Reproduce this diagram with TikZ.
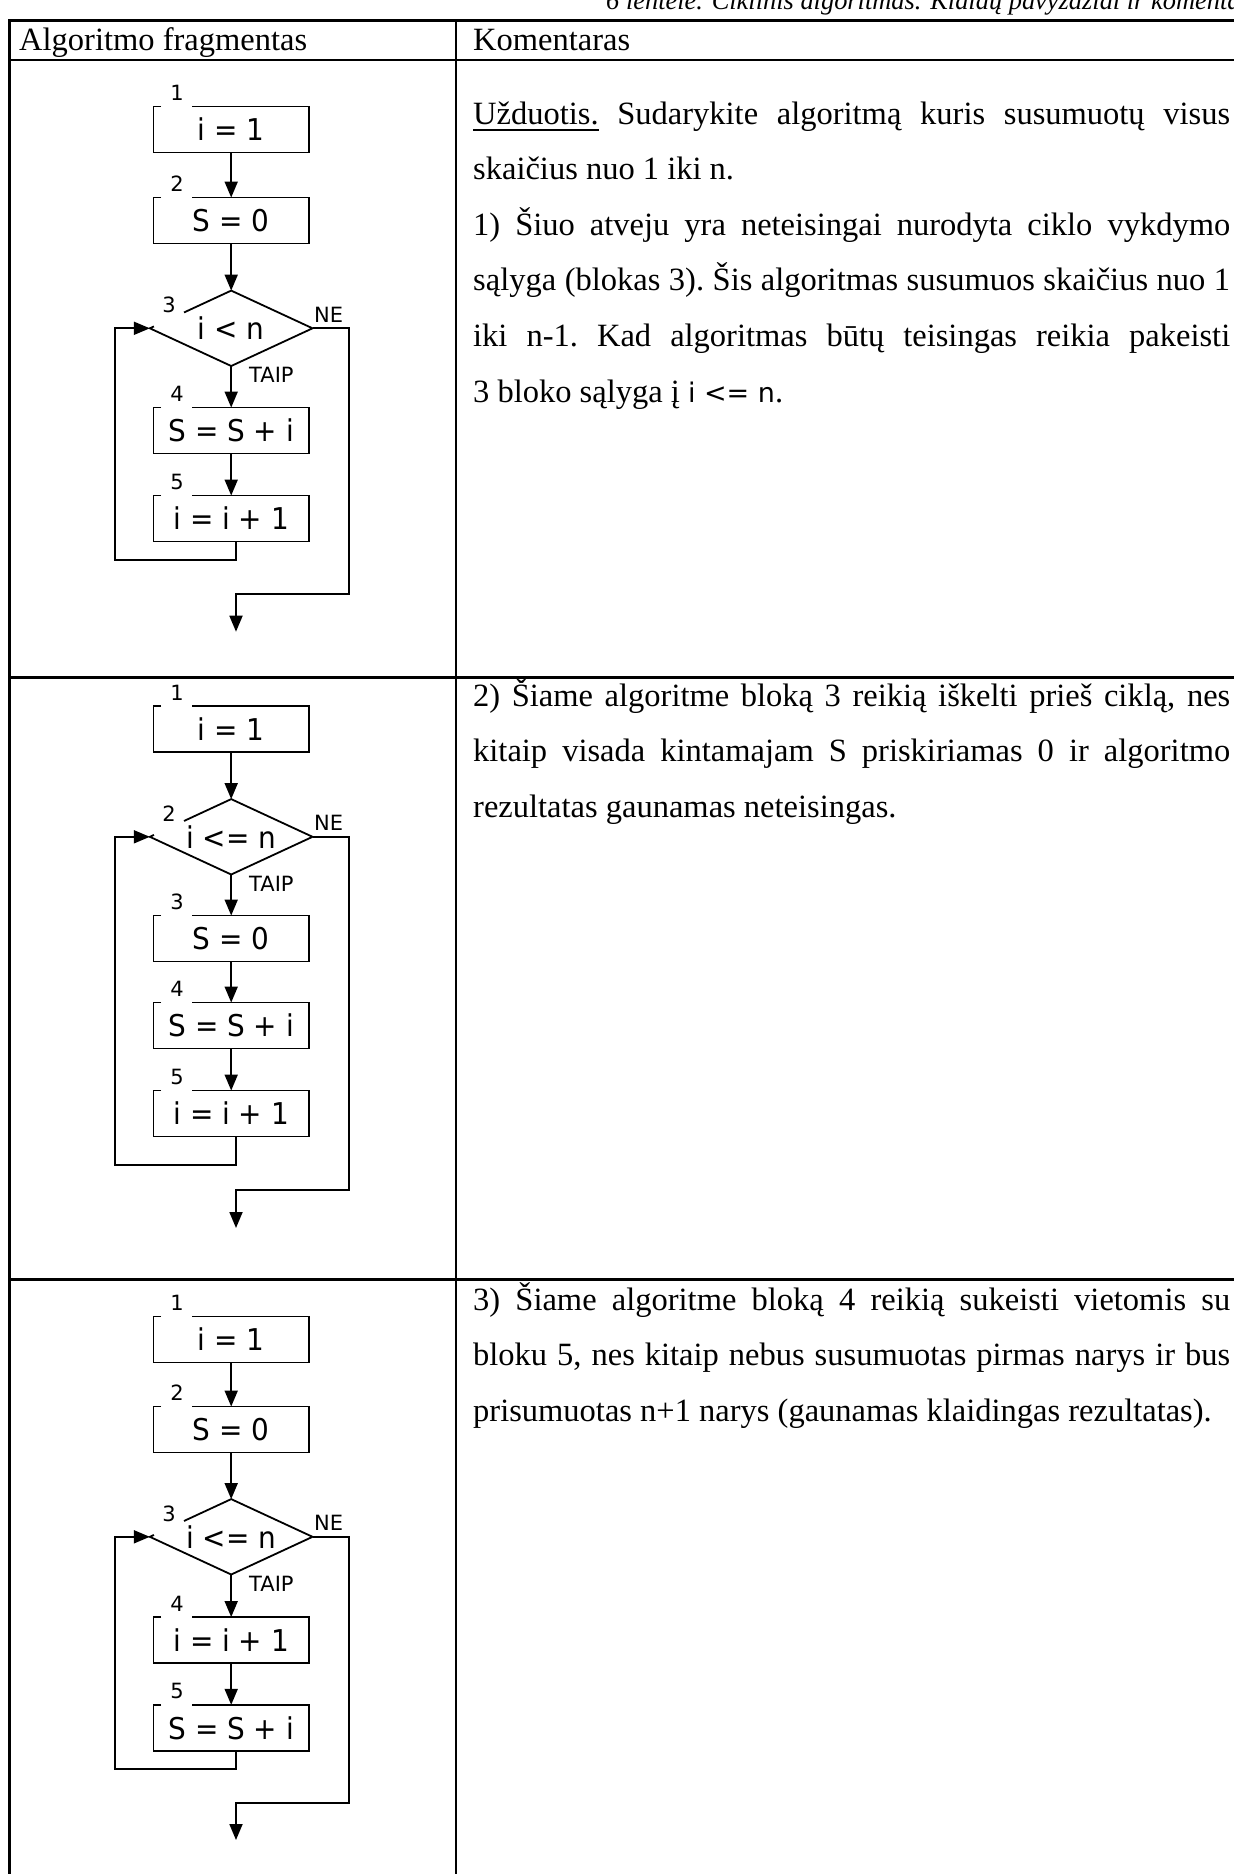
\documentclass[tikz,border=0pt]{standalone}
\usepackage{fontspec}
\usepackage{graphicx}
\setmainfont{Liberation Serif}
\newfontfamily\fcfont{DejaVu Sans}
\usetikzlibrary{arrows.meta,calc}

\tikzset{
  tline/.style={line width=2.2pt},
  shp/.style={line width=1.8pt},
  arr/.style={line width=1.8pt,-{Triangle[length=16pt,width=13pt]}},
  pbox/.style={rectangle,minimum width=155pt,minimum height=45.5pt,inner sep=0pt,font=\fcfont\fontsize{30}{36}\selectfont},
  dbox/.style={rectangle,minimum width=162.3pt,minimum height=75pt,inner sep=0pt,font=\fcfont\fontsize{30}{36}\selectfont},
  lbl/.style={inner sep=0pt,font=\fcfont\fontsize{21}{25}\selectfont},
  txt/.style={anchor=base west,inner sep=0pt,font=\fontsize{32.5}{40}\selectfont\frenchspacing},
}

\newcommand\pbx[5]{%
  \node[pbox] (#1) at (#2,#3) {\scalebox{0.93}[1]{#4}};
  \draw[shp] ($(#1.north west)+(7.7,0)$) -- (#1.north west) -- (#1.south west) -- (#1.south east) -- (#1.north east) -- ($(#1.north west)+(38.7,0)$);
  \node[lbl] (#1l) at ($(#1.north west)+(23.5,-13.5)$) {#5};
}
\newcommand\dbx[5]{%
  \node[dbox] (#1) at (#2,#3) {\scalebox{0.93}[1]{#4}};
  \draw[shp] ($(#1.west)!0.42!(#1.north)$) -- (#1.north) -- (#1.east) -- (#1.south) -- (#1.west) -- ($(#1.west)!0.05!(#1.north)$);
  \node[lbl] (#1l) at ($(#1.center)+(-62.2,-23.3)$) {#5};
  \node[lbl] (#1ne) at ($(#1.east)+(16,-13.6)$) {NE};
  \node[lbl] (#1ta) at ($(#1.south)+(40.2,9)$) {TAIP};
}
\newcommand\jl[3]{\node[txt] (#1) at (473,#2) {\hbox to 757pt{#3}};}
\newcommand\lft[3]{\node[txt] (#1) at (473,#2) {#3};}
\newcommand\myul[1]{\setbox0\hbox{#1}\rlap{\rule[-7pt]{\wd0}{2pt}}\box0\relax}

\begin{document}
\begin{tikzpicture}[x=1pt,y=-1pt]
\useasboundingbox (0,0) rectangle (1234,1874);
\clip (0,0) rectangle (1234,1874);

% caption
\node[anchor=base west,inner sep=0pt,font=\itshape\fontsize{26.4}{30}\selectfont] (cap) at (606,9) {6 lentelė. Ciklinis algoritmas. Klaidų pavyzdžiai ir komentarai};

% table
\draw[tline] (9.4,20.5) -- (9.4,1880);
\draw[tline] (456,20.5) -- (456,1880);
\draw[tline] (8.3,20.5) -- (1240,20.5);
\draw[tline] (8.3,60) -- (1240,60);
\draw[tline] (8.3,677.5) -- (1240,677.5);
\draw[tline] (8.3,1279.5) -- (1240,1279.5);

\node[txt] (h1) at (19,50.5) {Algoritmo fragmentas};
\node[txt] (h2) at (473,50.5) {Komentaras};

% row 1 text
\jl{r1a}{124}{\myul{Užduotis.} Sudarykite algoritmą kuris susumuotų visus}
\lft{r1b}{179.6}{skaičius nuo 1 iki n.}
\jl{r1c}{235.2}{1) Šiuo atveju yra neteisingai nurodyta ciklo vykdymo}
\jl{r1d}{290.8}{sąlyga (blokas 3). Šis algoritmas susumuos skaičius nuo 1}
\jl{r1e}{346.4}{iki n-1. Kad algoritmas būtų teisingas reikia pakeisti}
\lft{r1f}{402}{3 bloko sąlyga į {\fcfont\fontsize{27}{30}\selectfont i <= n}.}

% row 2 text
\jl{r2a}{706}{2) Šiame algoritme bloką 3 reikią iškelti prieš ciklą, nes}
\jl{r2b}{761.5}{kitaip visada kintamajam S priskiriamas 0 ir algoritmo}
\lft{r2c}{817}{rezultatas gaunamas neteisingas.}

% row 3 text
\jl{r3a}{1310}{3) Šiame algoritme bloką 4 reikią sukeisti vietomis su}
\jl{r3b}{1365.5}{bloku 5, nes kitaip nebus susumuotas pirmas narys ir bus}
\lft{r3c}{1421}{prisumuotas n+1 narys (gaunamas klaidingas rezultatas).}

% ---------- chart 1
\pbx{a1}{231.2}{129.5}{i = 1}{1}
\pbx{a2}{231.2}{220.5}{S = 0}{2}
\dbx{a3}{231.2}{328.3}{i < n}{3}
\pbx{a4}{231.2}{430.5}{S = S + i}{4}
\pbx{a5}{231.2}{518.5}{i = i + 1}{5}
\draw[arr] (a1.south) -- (a2.north);
\draw[arr] (a2.south) -- (a3.north);
\draw[arr] (a3.south) -- (a4.north);
\draw[arr] (a4.south) -- (a5.north);
\coordinate (alp) at (115,560.3);
\draw[arr] ([xshift=4.8pt]a5.south) |- (alp) |- (a3.west);
\coordinate (ae1) at (349.3,593.7);
\coordinate (ae2) at (236,631.7);
\draw[arr] (a3.east) -| (ae1) -| (ae2);

% ---------- chart 2
\pbx{b1}{231.2}{728.8}{i = 1}{1}
\dbx{b2}{231.2}{836.8}{i <= n}{2}
\pbx{b3}{231.2}{938.5}{S = 0}{3}
\pbx{b4}{231.2}{1025.5}{S = S + i}{4}
\pbx{b5}{231.2}{1113.5}{i = i + 1}{5}
\draw[arr] (b1.south) -- (b2.north);
\draw[arr] (b2.south) -- (b3.north);
\draw[arr] (b3.south) -- (b4.north);
\draw[arr] (b4.south) -- (b5.north);
\coordinate (blp) at (115,1165);
\draw[arr] ([xshift=4.8pt]b5.south) |- (blp) |- (b2.west);
\coordinate (be1) at (349.3,1190);
\coordinate (be2) at (236,1228);
\draw[arr] (b2.east) -| (be1) -| (be2);

% ---------- chart 3
\pbx{c1}{231.2}{1339.5}{i = 1}{1}
\pbx{c2}{231.2}{1429.5}{S = 0}{2}
\dbx{c3}{231.2}{1536.8}{i <= n}{3}
\pbx{c4}{231.2}{1640}{i = i + 1}{4}
\pbx{c5}{231.2}{1727.8}{S = S + i}{5}
\draw[arr] (c1.south) -- (c2.north);
\draw[arr] (c2.south) -- (c3.north);
\draw[arr] (c3.south) -- (c4.north);
\draw[arr] (c4.south) -- (c5.north);
\coordinate (clp) at (115,1769.3);
\draw[arr] ([xshift=4.8pt]c5.south) |- (clp) |- (c3.west);
\coordinate (ce1) at (349.3,1803.3);
\coordinate (ce2) at (236,1840);
\draw[arr] (c3.east) -| (ce1) -| (ce2);
\end{tikzpicture}
\end{document}
